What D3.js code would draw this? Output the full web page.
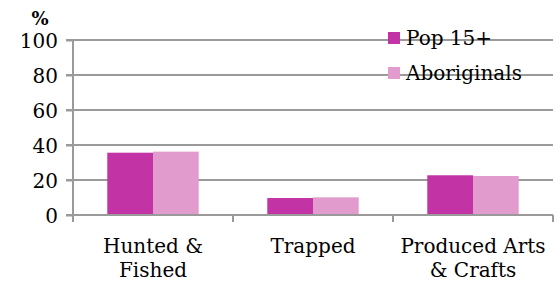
<!DOCTYPE html>
<html>
<head>
<meta charset="utf-8">
<script src="https://cdn.jsdelivr.net/npm/d3@7"></script>
<style>
  body { margin: 0; background: #fff; }
  text { font-family: "DejaVu Serif", serif; fill: #000; }
</style>
</head>
<body>
<script>
// chart data
var categories = [["Hunted &", "Fished"], ["Trapped"], ["Produced Arts", "& Crafts"]];
var seriesNames = ["Pop 15+", "Aboriginals"];
var pop15 = [35.6, 9.7, 22.7];
var aboriginals = [36.2, 10.1, 22.3];
var yTicks = [0, 20, 40, 60, 80, 100];
var colors = ["#C233A6", "#E29BCD"];

var margin = { top: 40, right: 3, bottom: 67, left: 73 };
var width = 556 - margin.left - margin.right;
var height = 282 - margin.top - margin.bottom;

let svg = d3.select('body').append('svg')
    .attr('width', 556)
    .attr('height', 282)
    .append('g')
    .attr('transform', 'translate(' + margin.left + ',' + margin.top + ')');

let xScale = d3.scaleBand()
    .domain(d3.range(categories.length))
    .range([0, width])
    .paddingInner(0)
    .paddingOuter(0);

let xInner = d3.scaleBand()
    .domain(d3.range(seriesNames.length))
    .range([0, xScale.bandwidth()])
    .paddingOuter(0.75)
    .paddingInner(0);

let yScale = d3.scaleLinear()
    .domain([0, 100])
    .range([height, 0]);

// gridlines
svg.append('g').selectAll('line')
    .data(yTicks.slice(1))
    .join('line')
    .attr('x1', -7)
    .attr('x2', width)
    .attr('y1', d => yScale(d))
    .attr('y2', d => yScale(d))
    .style('stroke', '#9a9a9a')
    .attr('stroke-width', 2);

// y axis
let yAxis = d3.axisLeft(yScale).tickValues(yTicks).tickSize(7).tickPadding(8);
let yg = svg.append('g').call(yAxis);
yg.select('.domain').remove();
yg.selectAll('line').style('stroke', '#9a9a9a').attr('stroke-width', 2);
yg.selectAll('text').style('font-size', '20px').style('font-family', '"DejaVu Serif", serif').attr('dy', '0.36em');
svg.append('line')
    .attr('x1', 0).attr('x2', 0)
    .attr('y1', 0).attr('y2', height)
    .style('stroke', '#9a9a9a')
    .attr('stroke-width', 2);

// bars
let series = [pop15, aboriginals];
series.forEach(function (vals, s) {
    svg.append('g').selectAll('rect')
        .data(vals)
        .join('rect')
        .attr('x', (d, i) => xScale(i) + xInner(s))
        .attr('width', xInner.bandwidth())
        .attr('y', d => yScale(d))
        .attr('height', d => height - yScale(d))
        .attr('fill', colors[s]);
});

// x axis
svg.append('line')
    .attr('x1', -7).attr('x2', width)
    .attr('y1', height).attr('y2', height)
    .style('stroke', '#9a9a9a')
    .attr('stroke-width', 2);
svg.append('g').selectAll('line')
    .data(d3.range(categories.length + 1))
    .join('line')
    .attr('x1', d => d * xScale.bandwidth())
    .attr('x2', d => d * xScale.bandwidth())
    .attr('y1', height)
    .attr('y2', height + 7)
    .style('stroke', '#9a9a9a')
    .attr('stroke-width', 2);

let labels = svg.append('g').selectAll('text')
    .data(categories)
    .join('text')
    .attr('text-anchor', 'middle')
    .style('font-size', '20px')
    .attr('transform', (d, i) => 'translate(' + (xScale(i) + xScale.bandwidth() / 2) + ',' + (height + 38) + ')');
labels.selectAll('tspan')
    .data(d => d)
    .join('tspan')
    .attr('x', 0)
    .attr('y', (d, j) => j * 24)
    .text(d => d);

// y unit label
svg.append('text')
    .attr('x', -33)
    .attr('y', -15)
    .attr('text-anchor', 'middle')
    .style('font-size', '18px')
    .style('font-weight', 'bold')
    .text('%');

// legend
let legend = svg.append('g').selectAll('g')
    .data(seriesNames)
    .join('g')
    .attr('transform', (d, i) => 'translate(315,' + (i * 35) + ')');
legend.append('rect')
    .attr('x', 0).attr('y', -8)
    .attr('width', 12).attr('height', 12)
    .attr('fill', (d, i) => colors[i]);
legend.append('text')
    .attr('x', 18)
    .attr('y', 5)
    .style('font-size', '20px')
    .text(d => d);
</script>
</body>
</html>
